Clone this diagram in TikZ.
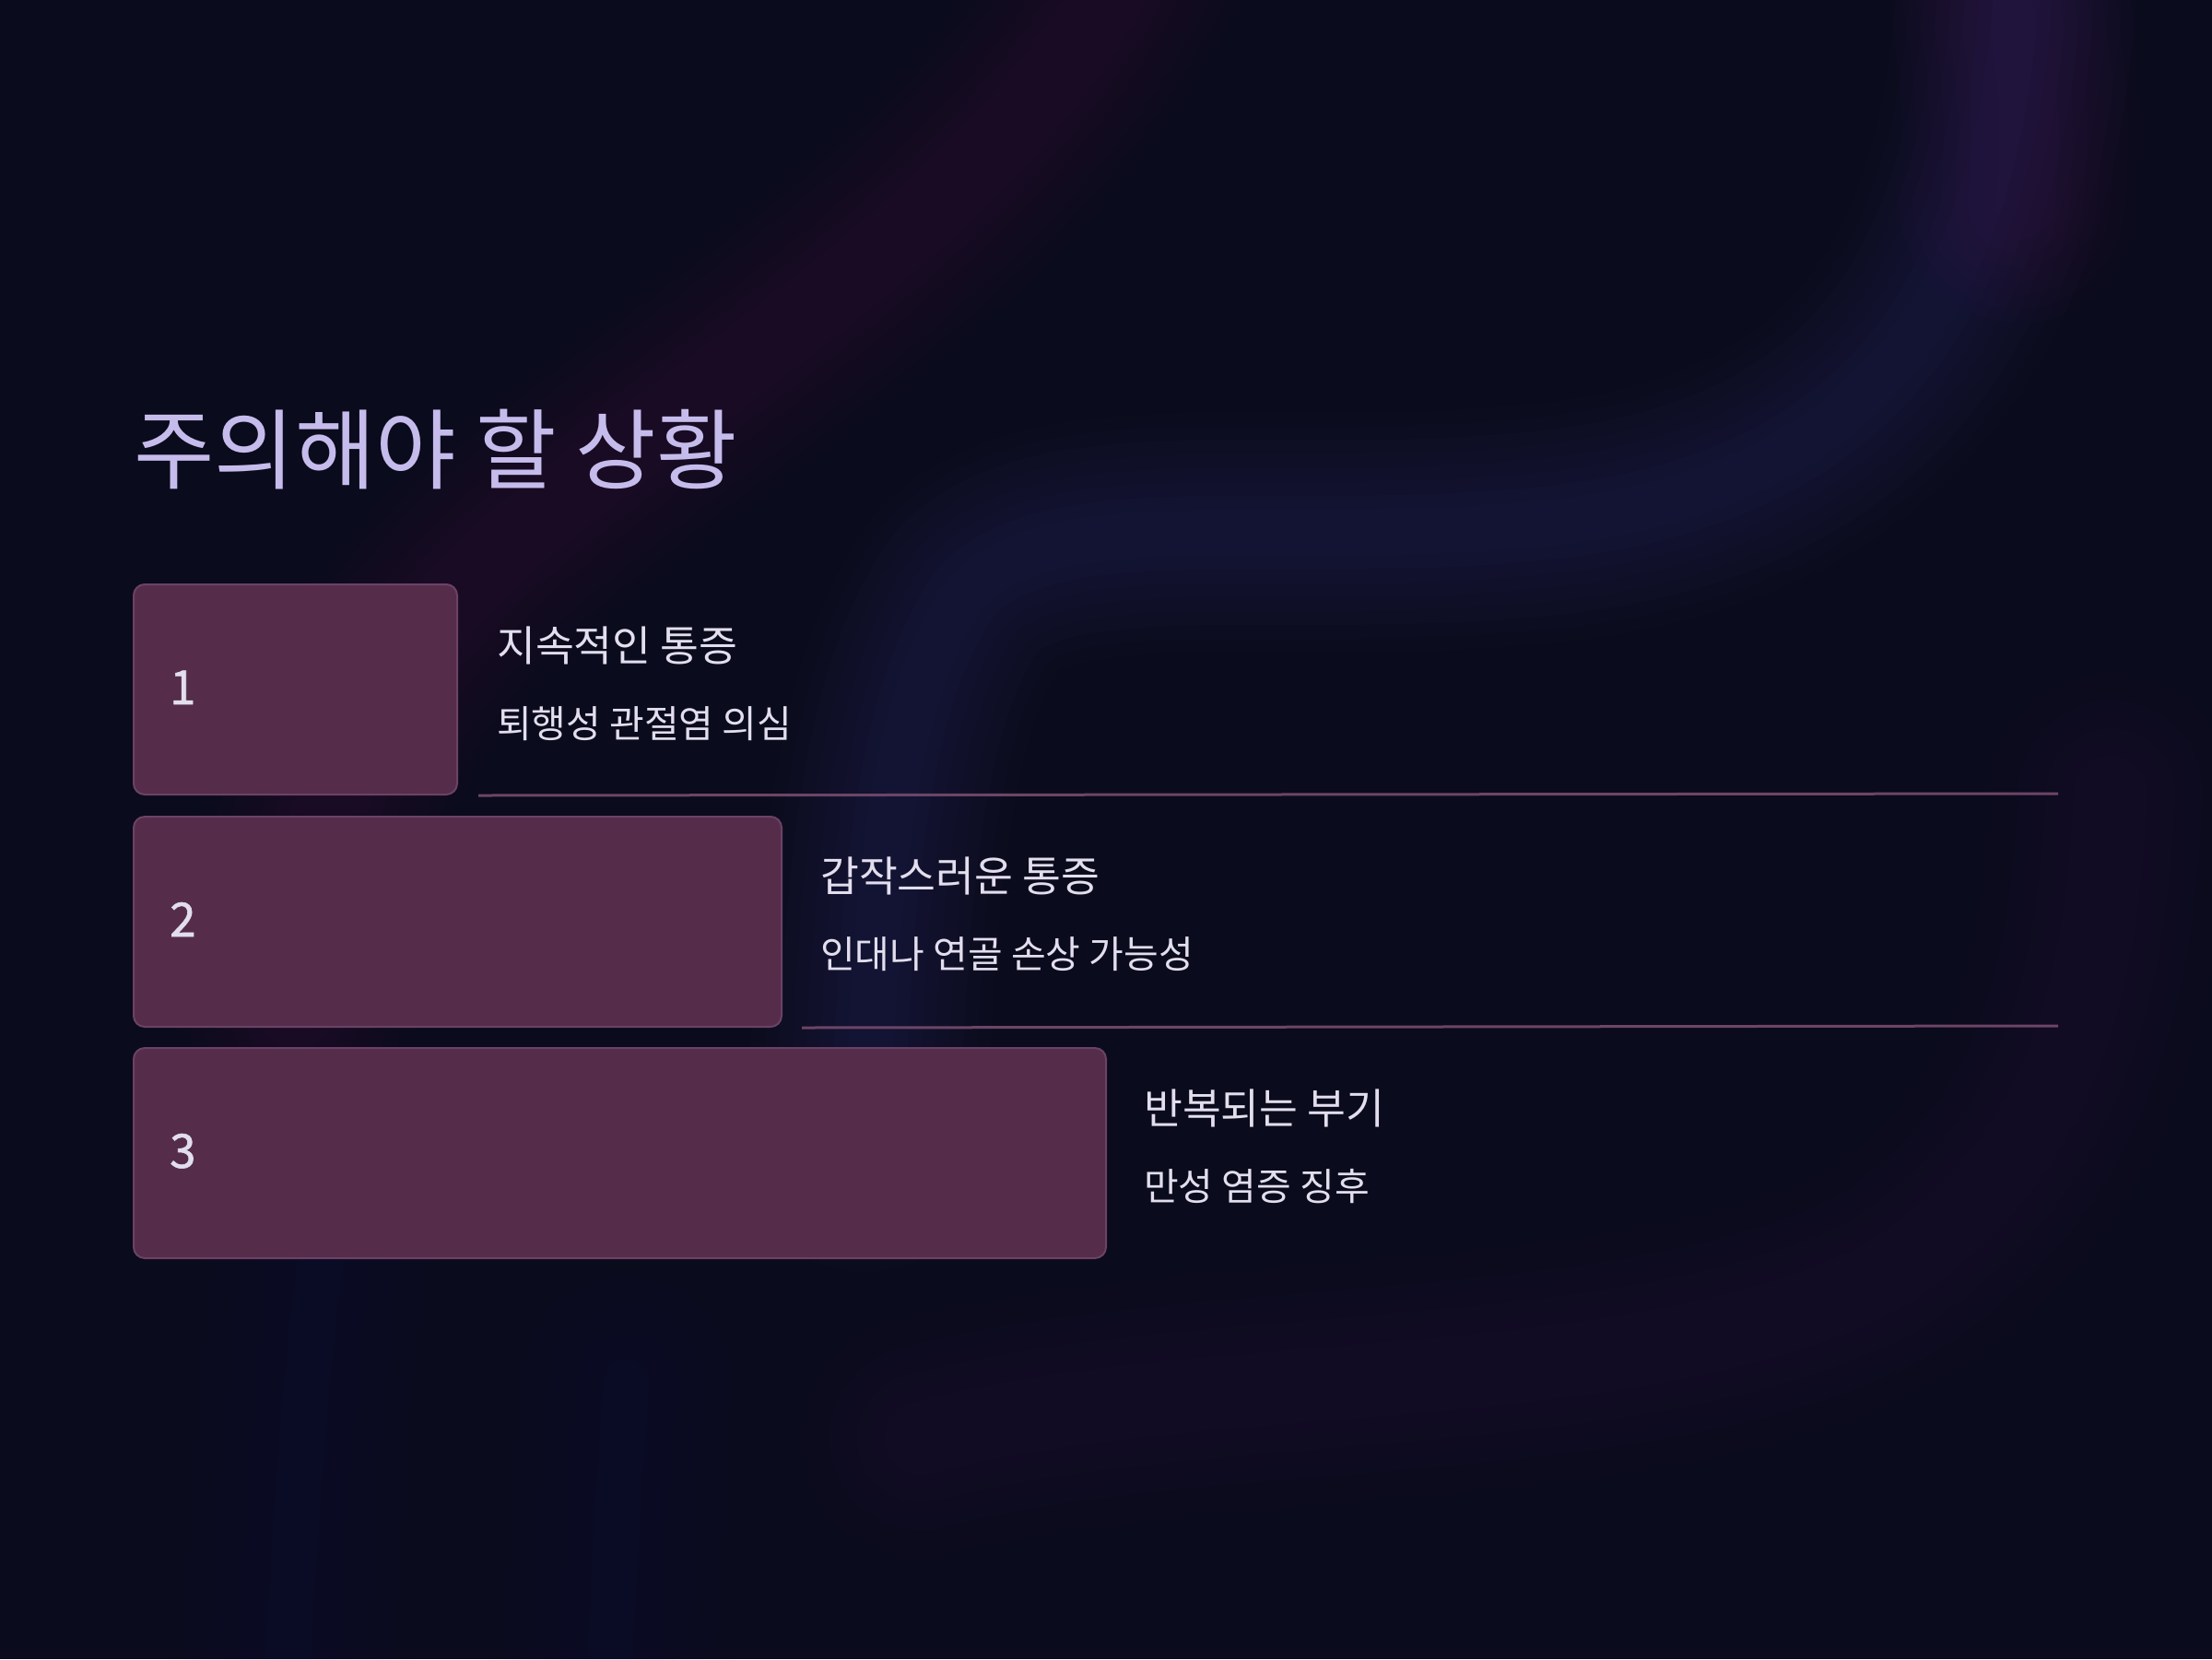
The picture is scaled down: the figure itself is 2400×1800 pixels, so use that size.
\documentclass[tikz,border=0pt]{standalone}
\usepackage{fontspec}
\newfontfamily\kr{Noto Sans CJK KR}
\newfontfamily\krnum{Noto Sans CJK KR}[FakeBold=1.2]
\definecolor{bgc}{HTML}{0A0B1C}
\definecolor{boxfill}{HTML}{552D4B}
\definecolor{boxline}{HTML}{6B4265}
\definecolor{sepc}{HTML}{6D4566}
\definecolor{titlec}{HTML}{C6BCEC}
\definecolor{textc}{HTML}{E2DEEE}
\definecolor{glowpink}{HTML}{7A2A70}
\definecolor{glowviolet}{HTML}{5444A8}
\definecolor{glowblue}{HTML}{2030A0}
\definecolor{glowmag}{HTML}{702070}
\tikzset{
  numbox/.style={draw=boxline, line width=2pt, fill=boxfill, rounded corners=12pt, anchor=north west, minimum height=228pt, inner sep=0pt},
  sepline/.style={draw=sepc, line width=3pt},
  numtext/.style={font=\krnum\fontsize{51}{60}\selectfont, text=textc, anchor=base west, inner sep=0pt},
  headtext/.style={font=\kr\fontsize{45.5}{52}\selectfont, text=textc, anchor=base west, inner sep=0pt},
  subtext/.style={font=\kr\fontsize{41}{48}\selectfont, text=textc, anchor=base west, inner sep=0pt},
  titletext/.style={font=\kr\fontsize{95}{100}\selectfont, text=titlec, anchor=base west, inner sep=0pt}
}
% #1 colour, #2 opacity per layer, #3 path
\newcommand{\glowpath}[3]{%
  \foreach \w in {260,230,200,170,140,110,80,50}{%
    \draw[draw=#1, line width=\w pt, draw opacity=#2, line cap=round] #3;}}
\begin{document}
\begin{tikzpicture}[x=1pt,y=-1pt]
\fill[bgc] (0,0) rectangle (2400,1800);
\useasboundingbox (0,0) rectangle (2400,1800);
\begin{scope}
\clip (0,0) rectangle (2400,1800);
% background glows
\glowpath{glowpink}{0.024}{(1230,-60) .. controls (1100,220) and (800,380) .. (540,600) .. controls (380,760) and (330,900) .. (320,1100)}
\glowpath{glowviolet}{0.026}{(2190,-60) .. controls (2180,300) and (2050,520) .. (1700,565) .. controls (1400,600) and (1150,540) .. (1050,640) .. controls (960,760) and (950,1000) .. (940,1250)}
\glowpath{glowmag}{0.022}{(2170,-60) .. controls (2190,60) and (2200,120) .. (2190,220)}
\glowpath{glowmag}{0.015}{(1000,1560) .. controls (1300,1480) and (1800,1520) .. (2050,1380) .. controls (2250,1250) and (2280,1050) .. (2290,860)}
\glowpath{glowblue}{0.011}{(350,1350) .. controls (330,1500) and (320,1650) .. (310,1860)}
\glowpath{glowblue}{0.011}{(680,1500) .. controls (670,1620) and (665,1720) .. (660,1860)}
\end{scope}
% title
\node[titletext] (title) at (145,523) {주의해야 할 상황};
% boxes
\node[numbox, minimum width=351pt] (b1) at (144,633) {};
\node[numbox, minimum width=703pt] (b2) at (144,885) {};
\node[numbox, minimum width=1055pt] (b3) at (144,1136) {};
% numbers
\node[numtext] (n1) at (184,764) {1};
\node[numtext] (n2) at (184,1016) {2};
\node[numtext] (n3) at (184,1267) {3};
% texts
\node[headtext] (h1) at (539,717) {지속적인 통증};
\node[subtext] (s1) at (539,800) {퇴행성 관절염 의심};
\node[headtext] (h2) at (890,967) {갑작스러운 통증};
\node[subtext] (s2) at (890,1050) {인대나 연골 손상 가능성};
\node[headtext] (h3) at (1241,1219) {반복되는 부기};
\node[subtext] (s3) at (1241,1302) {만성 염증 징후};
% separator lines
\coordinate (e1) at (2233,861);
\coordinate (e2) at (2233,1113);
\draw[sepline] ([xshift=22pt]b1.south east) -- (e1);
\draw[sepline] ([xshift=21pt]b2.south east) -- (e2);
\end{tikzpicture}
\end{document}
